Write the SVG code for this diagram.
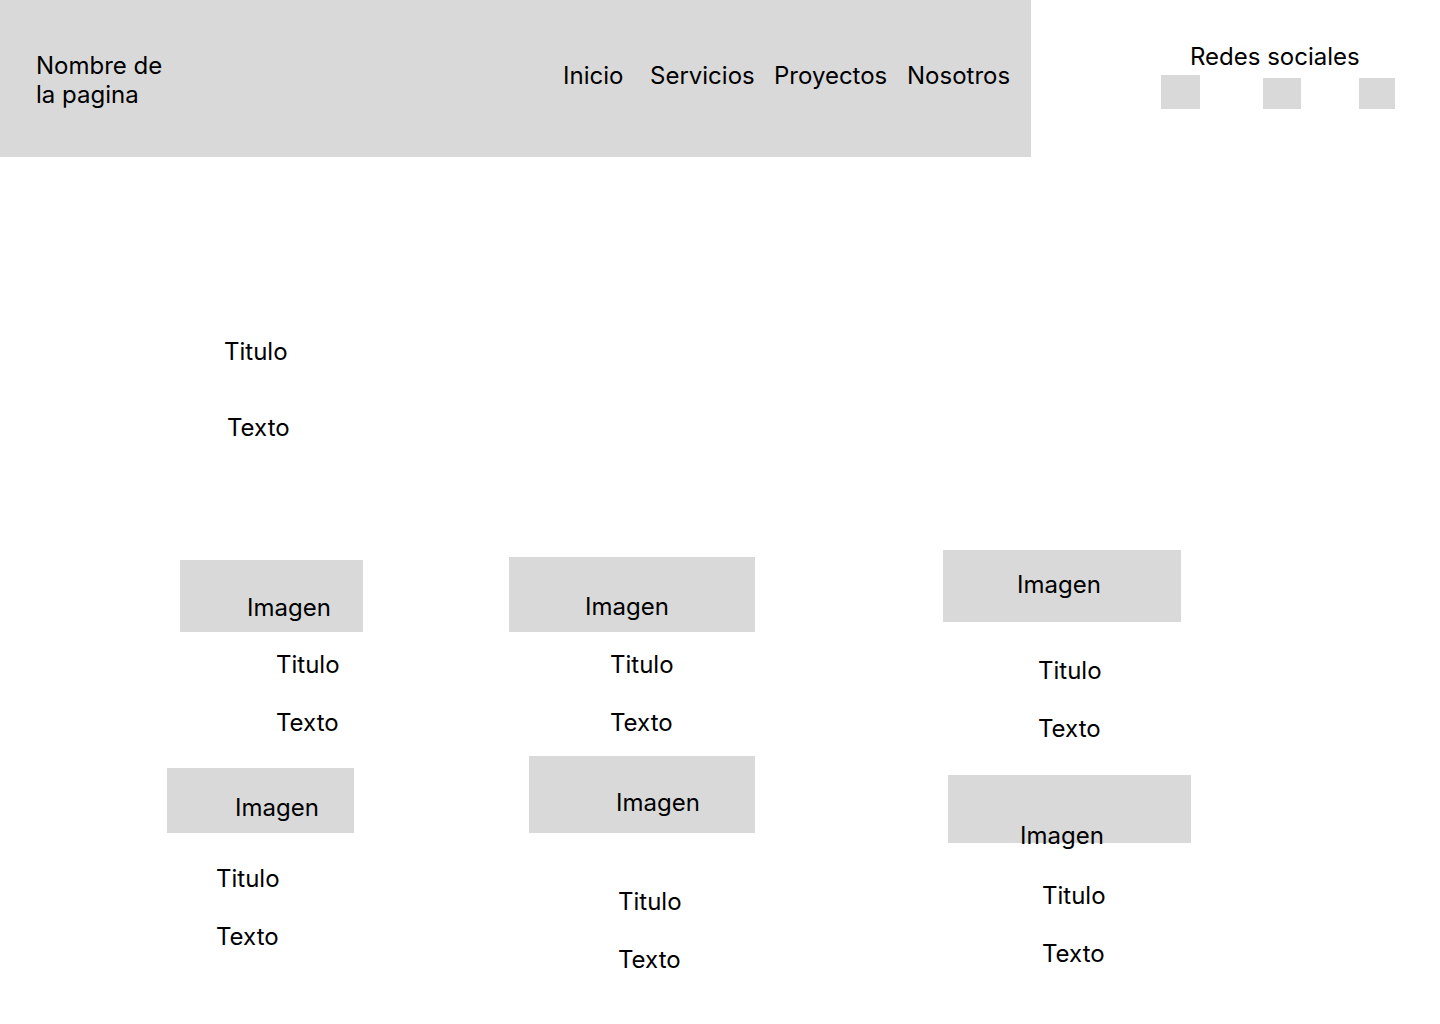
<svg xmlns="http://www.w3.org/2000/svg" width="1440" height="1024" viewBox="0 0 1440 1024">
<style>
.b{fill:#D9D9D9}
text{font-family:Inter,"Noto Sans",sans-serif;font-size:24px;fill:#000}
</style>
<rect width="1440" height="1024" fill="#fff"/>
<g id="header">
<rect class="b" x="0" y="0" width="1031" height="157"/>
<text x="36" y="74">Nombre de</text>
<text x="36" y="103">la pagina</text>
<text x="563" y="84">Inicio</text>
<text x="650" y="84">Servicios</text>
<text x="774" y="84">Proyectos</text>
<text x="907" y="84">Nosotros</text>
</g>
<g id="redes">
<text x="1190" y="65">Redes sociales</text>
<rect class="b" x="1161" y="75" width="39" height="34"/>
<rect class="b" x="1263" y="78" width="38" height="31"/>
<rect class="b" x="1359" y="78" width="36" height="31"/>
</g>
<g id="hero">
<text x="224" y="360">Titulo</text>
<text x="227" y="436">Texto</text>
</g>
<g id="card1">
<rect class="b" x="180" y="560" width="183" height="72"/>
<text x="247" y="616">Imagen</text>
<text x="276" y="673">Titulo</text>
<text x="276" y="731">Texto</text>
</g>
<g id="card2">
<rect class="b" x="509" y="557" width="246" height="75"/>
<text x="585" y="615">Imagen</text>
<text x="610" y="673">Titulo</text>
<text x="610" y="731">Texto</text>
</g>
<g id="card3">
<rect class="b" x="943" y="550" width="238" height="72"/>
<text x="1017" y="593">Imagen</text>
<text x="1038" y="679">Titulo</text>
<text x="1038" y="737">Texto</text>
</g>
<g id="card4">
<rect class="b" x="167" y="768" width="187" height="65"/>
<text x="235" y="816">Imagen</text>
<text x="216" y="887">Titulo</text>
<text x="216" y="945">Texto</text>
</g>
<g id="card5">
<rect class="b" x="529" y="756" width="226" height="77"/>
<text x="616" y="811">Imagen</text>
<text x="618" y="910">Titulo</text>
<text x="618" y="968">Texto</text>
</g>
<g id="card6">
<rect class="b" x="948" y="775" width="243" height="68"/>
<text x="1020" y="844">Imagen</text>
<text x="1042" y="904">Titulo</text>
<text x="1042" y="962">Texto</text>
</g>
<g id="connectors"/>
</svg>
